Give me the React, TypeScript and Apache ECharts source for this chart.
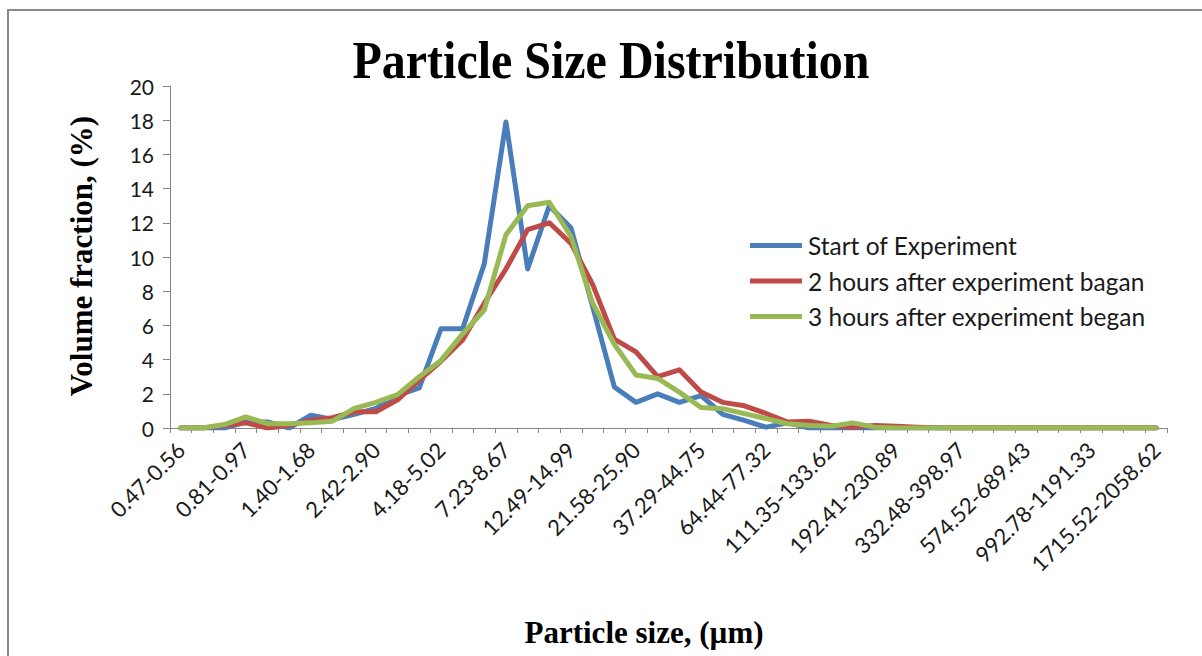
import React, { useEffect, useRef } from "react";
import * as echarts from "echarts";

const categories: string[] = [
  "0.47-0.56", "0.56-0.67", "0.67-0.81", "0.81-0.97", "0.97-1.16", "1.16-1.40",
  "1.40-1.68", "1.68-2.02", "2.02-2.42", "2.42-2.90", "2.90-3.48", "3.48-4.18",
  "4.18-5.02", "5.02-6.02", "6.02-7.23", "7.23-8.67", "8.67-10.41", "10.41-12.49",
  "12.49-14.99", "14.99-17.99", "17.99-21.58", "21.58-25.90", "25.90-31.08", "31.08-37.29",
  "37.29-44.75", "44.75-53.70", "53.70-64.44", "64.44-77.32", "77.32-92.79", "92.79-111.35",
  "111.35-133.62", "133.62-160.35", "160.35-192.41", "192.41-230.89", "230.89-277.07", "277.07-332.48",
  "332.48-398.97", "398.97-478.77", "478.77-574.52", "574.52-689.43", "689.43-827.31", "827.31-992.78",
  "992.78-1191.33", "1191.33-1429.60", "1429.60-1715.52", "1715.52-2058.62",
];

const startOfExperiment: number[] = [
  0, 0, 0, 0.35, 0.35, 0, 0.75, 0.5, 0.8, 1.15, 1.9, 2.35,
  5.8, 5.8, 9.6, 17.9, 9.3, 13.0, 11.7, 7.1, 2.4, 1.5, 2.0, 1.5,
  1.9, 0.8, 0.45, 0.05, 0.3, 0, 0, 0, 0, 0, 0, 0,
  0, 0, 0, 0, 0, 0, 0, 0, 0, 0,
];

const twoHours: number[] = [
  0, 0, 0.15, 0.3, 0, 0.15, 0.45, 0.6, 0.95, 0.95, 1.65, 2.8,
  3.9, 5.15, 7.3, 9.3, 11.6, 12.0, 10.8, 8.4, 5.2, 4.45, 3.0, 3.4,
  2.1, 1.5, 1.3, 0.85, 0.35, 0.4, 0.15, 0.05, 0.15, 0.1, 0.05, 0,
  0, 0, 0, 0, 0, 0, 0, 0, 0, 0,
];

const threeHours: number[] = [
  0, 0, 0.2, 0.65, 0.25, 0.25, 0.3, 0.4, 1.15, 1.5, 1.95, 3.0,
  3.95, 5.5, 6.9, 11.3, 13.0, 13.2, 11.2, 7.3, 4.9, 3.1, 2.9, 2.1,
  1.2, 1.13, 0.84, 0.55, 0.25, 0.15, 0.1, 0.3, 0.05, 0, 0, 0,
  0, 0, 0, 0, 0, 0, 0, 0, 0, 0,
];

const seriesNames: string[] = [
  "Start of Experiment",
  "2 hours after experiment bagan",
  "3 hours after experiment began",
];
const seriesColors: string[] = ["#4A7EBB", "#BE4B48", "#98B954"];

export default function App() {
  const ref = useRef<HTMLDivElement>(null);

  useEffect(() => {
    if (!ref.current) return;
    const chart = echarts.init(ref.current, null, { renderer: "svg" });
    const dataSets = [startOfExperiment, twoHours, threeHours];
    const sansFont = "Lato, 'Open Sans', sans-serif";
    const serifFont = "'Liberation Serif', 'Times New Roman', serif";

    chart.setOption({
      animation: false,
      backgroundColor: "#ffffff",
      graphic: [
        {
          type: "polyline",
          shape: { points: [[8, 720], [8, 10], [1240, 10]] },
          style: { stroke: "#8a8a8a", lineWidth: 2, fill: "none" },
          silent: true,
        },
        {
          type: "text",
          x: 611,
          y: 60,
          scaleY: 1.08,
          style: {
            text: "Particle Size Distribution",
            font: `bold 48px ${serifFont}`,
            fill: "#000",
            textAlign: "center",
            textVerticalAlign: "middle",
          },
        },
        {
          type: "text",
          x: 644,
          y: 632,
          style: {
            text: "Particle size, (µm)",
            font: `bold 31px ${serifFont}`,
            fill: "#000",
            textAlign: "center",
            textVerticalAlign: "middle",
          },
        },
        {
          type: "text",
          x: 81,
          y: 256,
          rotation: Math.PI / 2,
          style: {
            text: "Volume fraction, (%)",
            font: `bold 31px ${serifFont}`,
            fill: "#000",
            textAlign: "center",
            textVerticalAlign: "middle",
          },
        },
      ],
      legend: {
        orient: "vertical",
        left: 750,
        top: 233,
        padding: 0,
        icon: "rect",
        itemWidth: 52,
        itemHeight: 5,
        itemGap: 10.5,
        data: seriesNames,
        textStyle: {
          fontFamily: sansFont,
          fontSize: 24.5,
          lineHeight: 25,
          color: "#1a1a1a",
          padding: [0, 0, 0, 1],
        },
      },
      grid: { left: 170, right: 35, top: 86, bottom: 228 },
      xAxis: {
        type: "category",
        data: categories,
        boundaryGap: true,
        axisLine: { lineStyle: { color: "#868686", width: 1 } },
        axisTick: {
          show: true,
          interval: 0,
          length: 5,
          lineStyle: { color: "#868686" },
        },
        axisLabel: {
          interval: 2,
          rotate: 45,
          margin: 18,
          fontFamily: sansFont,
          fontSize: 22,
          color: "#1a1a1a",
        },
        splitLine: { show: false },
      },
      yAxis: {
        type: "value",
        min: 0,
        max: 20,
        interval: 2,
        axisLine: { show: true, lineStyle: { color: "#868686", width: 1 } },
        axisTick: { show: true, length: 7, lineStyle: { color: "#868686" } },
        axisLabel: {
          margin: 16,
          fontFamily: sansFont,
          fontSize: 21,
          color: "#1a1a1a",
        },
        splitLine: { show: false },
      },
      series: dataSets.map((d, i) => ({
        name: seriesNames[i],
        type: "line",
        data: d,
        symbol: "none",
        showSymbol: false,
        smooth: false,
        color: seriesColors[i],
        lineStyle: {
          color: seriesColors[i],
          width: 5,
          cap: "round",
          join: "round",
        },
      })),
    });

    return () => {
      chart.dispose();
    };
  }, []);

  return (
    <div
      ref={ref}
      style={{ position: "absolute", left: 0, top: 0, width: 1202, height: 656 }}
    />
  );
}
